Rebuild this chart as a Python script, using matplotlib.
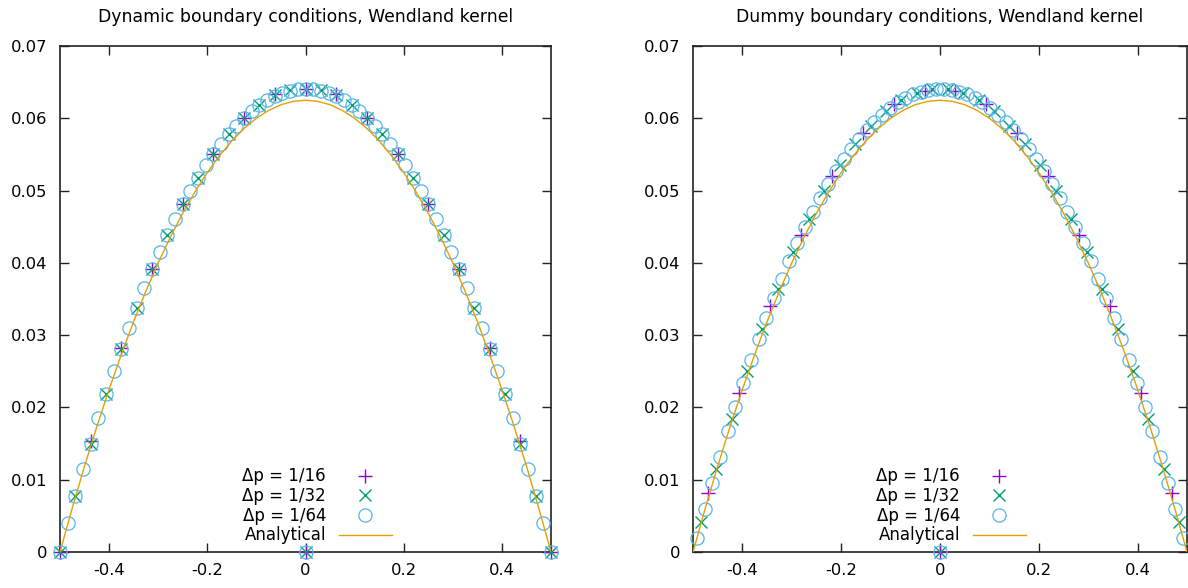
import numpy as np
import matplotlib
matplotlib.use('Agg')
import matplotlib.pyplot as plt

plt.rcParams['font.family'] = 'DejaVu Sans'
plt.rcParams['axes.unicode_minus'] = False

# colours of gnuplot default palette
c16 = '#9400d3'
c32 = '#009e73'
c64 = '#56b4e9'
cana = '#e69f00'

labels = ['Δp = 1/16', 'Δp = 1/32', 'Δp = 1/64', 'Analytical']
titles = ['Dynamic boundary conditions, Wendland kernel',
          'Dummy boundary conditions, Wendland kernel']

# analytical profile, read at x = -0.5 .. 0.5 step 0.025
x_ana = np.linspace(-0.5, 0.5, 41)
y_ana = [0, 0.00609, 0.01188, 0.01734, 0.0225, 0.02734, 0.03188, 0.03609, 0.04, 0.04359,
         0.04688, 0.04984, 0.0525, 0.05484, 0.05688, 0.05859, 0.06, 0.06109, 0.06188, 0.06234,
         0.0625,
         0.06234, 0.06188, 0.06109, 0.06, 0.05859, 0.05688, 0.05484, 0.0525, 0.04984, 0.04688,
         0.04359, 0.04, 0.03609, 0.03188, 0.02734, 0.0225, 0.01734, 0.01188, 0.00609, 0]

# dynamic boundaries: particles at -0.5 + k*dp
dyn_x16 = np.linspace(-0.5, 0.5, 17)
dyn_y16 = [0, 0.0153, 0.0282, 0.0392, 0.0482, 0.0551, 0.0601, 0.0633, 0.0641,
           0.0633, 0.0601, 0.0551, 0.0482, 0.0392, 0.0282, 0.0153, 0]
dyn_x32 = np.linspace(-0.5, 0.5, 33)
dyn_y32 = [0, 0.0078, 0.0150, 0.0218, 0.0281, 0.0338, 0.0391, 0.0438, 0.0481, 0.0518,
           0.0551, 0.0578, 0.0601, 0.0619, 0.0632, 0.0639, 0.0641,
           0.0639, 0.0632, 0.0619, 0.0601, 0.0578, 0.0551, 0.0518, 0.0481, 0.0438,
           0.0391, 0.0338, 0.0281, 0.0218, 0.0150, 0.0078, 0]
dyn_x64 = np.linspace(-0.5, 0.5, 65)
dyn_y64 = [0, 0.0040, 0.0078, 0.0115, 0.0150, 0.0185, 0.0218, 0.0250, 0.0281, 0.0310,
           0.0338, 0.0365, 0.0391, 0.0415, 0.0438, 0.0460, 0.0481, 0.0500, 0.0518, 0.0535,
           0.0551, 0.0565, 0.0578, 0.0590, 0.0601, 0.0610, 0.0619, 0.0625, 0.0631, 0.0635,
           0.0638, 0.0640, 0.0641,
           0.0640, 0.0638, 0.0635, 0.0631, 0.0625, 0.0619, 0.0610, 0.0601, 0.0590, 0.0578,
           0.0565, 0.0551, 0.0535, 0.0518, 0.0500, 0.0481, 0.0460, 0.0438, 0.0415, 0.0391,
           0.0365, 0.0338, 0.0310, 0.0281, 0.0250, 0.0218, 0.0185, 0.0150, 0.0115, 0.0078,
           0.0040, 0]

# dummy boundaries: particles at half spacing from the wall
dum_x16 = np.linspace(-0.5 + 1/32, 0.5 - 1/32, 16)
dum_y16 = [0.0082, 0.0220, 0.0341, 0.0439, 0.0520, 0.0580, 0.0620, 0.0638,
           0.0638, 0.0620, 0.0580, 0.0520, 0.0439, 0.0341, 0.0220, 0.0082]
dum_x32 = np.linspace(-0.5 + 1/64, 0.5 - 1/64, 32)
dum_y32 = [0.0041, 0.0115, 0.0184, 0.0250, 0.0309, 0.0364, 0.0415, 0.0460, 0.0500, 0.0535,
           0.0565, 0.0590, 0.0610, 0.0625, 0.0635, 0.0640,
           0.0640, 0.0635, 0.0625, 0.0610, 0.0590, 0.0565, 0.0535, 0.0500, 0.0460, 0.0415,
           0.0364, 0.0309, 0.0250, 0.0184, 0.0115, 0.0041]
dum_x64 = np.linspace(-0.5 + 1/128, 0.5 - 1/128, 64)
dum_y64 = [0.0020, 0.0059, 0.0096, 0.0132, 0.0167, 0.0201, 0.0234, 0.0265, 0.0295, 0.0324,
           0.0351, 0.0378, 0.0403, 0.0427, 0.0449, 0.0470, 0.0490, 0.0509, 0.0527, 0.0543,
           0.0558, 0.0572, 0.0584, 0.0595, 0.0605, 0.0614, 0.0622, 0.0628, 0.0633, 0.0637,
           0.0639, 0.0640,
           0.0640, 0.0639, 0.0637, 0.0633, 0.0628, 0.0622, 0.0614, 0.0605, 0.0595, 0.0584,
           0.0572, 0.0558, 0.0543, 0.0527, 0.0509, 0.0490, 0.0470, 0.0449, 0.0427, 0.0403,
           0.0378, 0.0351, 0.0324, 0.0295, 0.0265, 0.0234, 0.0201, 0.0167, 0.0132, 0.0096,
           0.0059, 0.0020]

# stray point at the origin in every data file
orig_x = [0]
orig_y = [0]

fig = plt.figure(figsize=(11.88, 5.88), dpi=100)
ax1 = fig.add_axes([60/1188, 36/588, 491/1188, 506/588])
ax2 = fig.add_axes([693/1188, 36/588, 494/1188, 506/588])


def draw(ax, title, x16, y16, x32, y32, x64, y64, legx):
    ax.plot(np.append(x16, orig_x), np.append(y16, orig_y), ls='none', marker='+',
            ms=10, mew=1.0, color=c16, clip_on=False, zorder=3, label=labels[0])
    ax.plot(np.append(x32, orig_x), np.append(y32, orig_y), ls='none', marker='x',
            ms=9, mew=1.0, color=c32, clip_on=False, zorder=3, label=labels[1])
    ax.plot(np.append(x64, orig_x), np.append(y64, orig_y), ls='none', marker='o',
            ms=9.5, mew=0.9, mfc='none', color=c64, clip_on=False, zorder=3, label=labels[2])
    ax.plot(x_ana, y_ana, color=cana, lw=1.0, zorder=4, label=labels[3])

    ax.set_xlim(-0.5, 0.5)
    ax.set_ylim(0, 0.07)
    ax.set_xticks([-0.4, -0.2, 0, 0.2, 0.4])
    ax.set_xticklabels(['-0.4', '-0.2', '0', '0.2', '0.4'])
    ax.set_yticks([0, 0.01, 0.02, 0.03, 0.04, 0.05, 0.06, 0.07])
    ax.set_yticklabels(['0', '0.01', '0.02', '0.03', '0.04', '0.05', '0.06', '0.07'])
    ax.tick_params(direction='in', top=True, right=True, length=6.5, width=1,
                   labelsize=11.8, color='#222222')
    ax.tick_params(axis='x', pad=8)
    ax.tick_params(axis='y', pad=9)
    for sp in ax.spines.values():
        sp.set_linewidth(1.2)
        sp.set_color('#222222')
    ax.set_title(title, fontsize=12.4, pad=17)

    leg = ax.legend(loc='lower right', bbox_to_anchor=(legx, 0.015), frameon=False,
                    markerfirst=False, fontsize=12, handlelength=3.2,
                    labelspacing=0.1, handletextpad=0.75, borderpad=0,
                    borderaxespad=0)
    for t in leg.get_texts():
        t.set_ha('right')


draw(ax1, titles[0], dyn_x16, dyn_y16, dyn_x32, dyn_y32, dyn_x64, dyn_y64, 0.676)
draw(ax2, titles[1], dum_x16, dum_y16, dum_x32, dum_y32, dum_x64, dum_y64, 0.674)

fig.savefig('out.png', dpi=100)
